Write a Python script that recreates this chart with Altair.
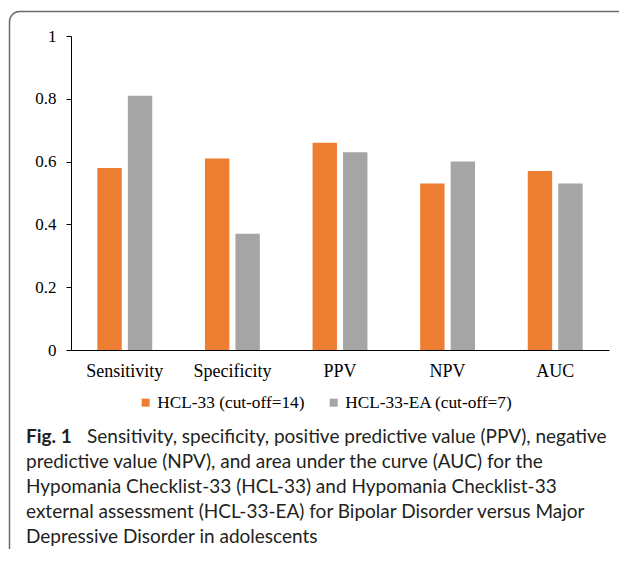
import altair as alt
import pandas as pd

categories = ["Sensitivity", "Specificity", "PPV", "NPV", "AUC"]
series_names = ["HCL-33 (cut-off=14)", "HCL-33-EA (cut-off=7)"]
hcl33 = [0.58, 0.61, 0.66, 0.53, 0.57]
hcl33_ea = [0.81, 0.37, 0.63, 0.60, 0.53]
y_ticks = [0, 0.2, 0.4, 0.6, 0.8, 1.0]
colors = ["#ED7D31", "#A5A5A5"]

caption_bold = "Fig. 1"
caption_lines = [
    "Sensitivity, specificity, positive predictive value (PPV), negative",
    "predictive value (NPV), and area under the curve (AUC) for the",
    "Hypomania Checklist-33 (HCL-33) and Hypomania Checklist-33",
    "external assessment (HCL-33-EA) for Bipolar Disorder versus Major",
    "Depressive Disorder in adolescents",
]

rows = []
for c, a, b in zip(categories, hcl33, hcl33_ea):
    rows.append({"metric": c, "series": series_names[0], "value": a})
    rows.append({"metric": c, "series": series_names[1], "value": b})
df = pd.DataFrame(rows)

W, H = 538, 314
SERIF = "Liberation Serif"
CAP_FONT = "Lato"
CAP_SIZE = 19

bars = alt.Chart(df).mark_bar().encode(
    x=alt.X("metric:N", sort=categories, title=None,
            scale=alt.Scale(paddingInner=0.49, paddingOuter=0.245),
            axis=alt.Axis(labelAngle=0, ticks=False, domainColor="black",
                          domainWidth=1, labelFont=SERIF, labelFontSize=18,
                          labelColor="black", labelPadding=12)),
    xOffset=alt.XOffset("series:N", sort=series_names,
                        scale=alt.Scale(paddingInner=0.2)),
    y=alt.Y("value:Q", title=None,
            scale=alt.Scale(domain=[0, 1], nice=False),
            axis=alt.Axis(values=y_ticks, format=".1~f", grid=False,
                          domainColor="black", tickColor="black", tickSize=5,
                          labelFont=SERIF, labelFontSize=17, labelColor="black",
                          labelPadding=10)),
    color=alt.Color("series:N", sort=series_names,
                    scale=alt.Scale(domain=series_names, range=colors),
                    legend=alt.Legend(title=None, orient="none", legendX=66,
                                      legendY=358, direction="horizontal",
                                      symbolType="square", symbolSize=64,
                                      symbolStrokeWidth=0, labelFont=SERIF,
                                      labelFontSize=17.3, labelColor="black",
                                      labelOffset=3, columnPadding=20,
                                      labelLimit=0)),
)

one = pd.DataFrame({"k": [0]})
border = alt.Chart(one).mark_rect(
    fill=None, stroke="#6b6b6b", strokeWidth=1.5, cornerRadius=10
).encode(x=alt.value(-61.5), x2=alt.value(580), y=alt.value(-24.5), y2=alt.value(540))

cap_y = [401, 426, 451, 476, 501]
layers = [border, bars]
layers.append(
    alt.Chart(pd.DataFrame({"t": [caption_bold]})).mark_text(
        align="left", baseline="middle", font=CAP_FONT, fontSize=CAP_SIZE,
        fontWeight="bold", color="#231f20"
    ).encode(x=alt.value(-45), y=alt.value(cap_y[0]), text="t:N")
)
for i, line in enumerate(caption_lines):
    layers.append(
        alt.Chart(pd.DataFrame({"t": [line]})).mark_text(
            align="left", baseline="middle", font=CAP_FONT, fontSize=CAP_SIZE,
            color="#231f20"
        ).encode(x=alt.value(16 if i == 0 else -45), y=alt.value(cap_y[i]), text="t:N")
    )

chart = alt.layer(*layers).properties(
    width=W, height=H,
    autosize=alt.AutoSizeParams(type="none"),
    padding={"left": 63, "top": 28, "right": 10, "bottom": 199},
).configure_view(stroke=None)

chart.save("out.html", embed_options={"renderer": "svg", "actions": False})
